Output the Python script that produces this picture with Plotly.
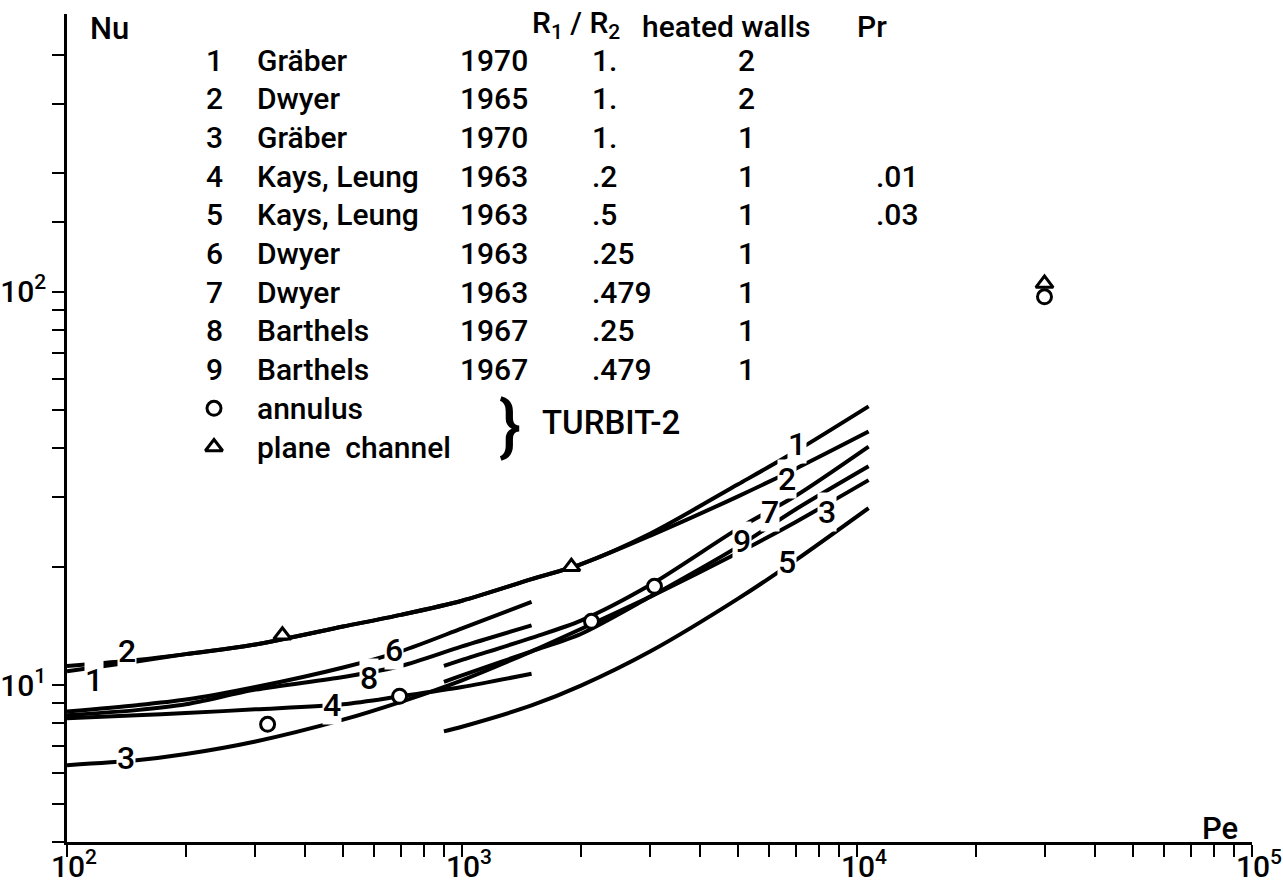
import plotly.graph_objects as go
import math

# ---------------- data ----------------
pe_12 = [100, 150, 200, 300, 500, 700, 1000, 1500, 2000, 3000, 5000, 7000, 10700]
nu_1 = [10.85, 11.5, 12.0, 12.7, 14.1, 15.1, 16.4, 18.6, 20.3, 24.3, 32.4, 39.3, 51.1]
nu_2 = [11.2, 11.6, 12.0, 12.7, 14.1, 15.1, 16.4, 18.6, 20.3, 24.0, 30.2, 35.5, 44.1]
pe_3 = [100, 150, 200, 300, 500, 700, 1000, 1500, 2000, 3000, 5000, 7000, 10700]
nu_3 = [6.27, 6.45, 6.69, 7.2, 8.18, 9.08, 10.3, 12.2, 13.9, 16.8, 21.7, 26.0, 33.2]
pe_low = [100, 150, 200, 300, 500, 700, 1000, 1500]
nu_4 = [8.25, 8.39, 8.5, 8.69, 8.95, 9.38, 9.9, 10.7]
nu_6 = [8.58, 8.9, 9.2, 9.9, 11.1, 12.2, 13.95, 16.3]
nu_8 = [8.39, 8.65, 8.95, 9.75, 10.5, 11.2, 12.56, 14.2]
pe_high = [900, 1000, 1500, 2000, 3000, 5000, 7000, 10700]
nu_7 = [11.2, 11.6, 13.2, 14.6, 18.0, 25.0, 30.3, 40.4]
nu_9 = [10.2, 10.6, 12.2, 13.5, 16.8, 22.5, 28.0, 36.0]
nu_5 = [7.64, 7.85, 8.89, 9.98, 12.2, 16.6, 20.8, 28.2]

annulus_pe = [322, 695, 2127, 3071, 29830]
annulus_nu = [7.96, 9.38, 14.54, 17.84, 97.0]
channel_pe = [351, 1892, 29830]
channel_nu = [13.4, 20.0, 104.8]

legend_rows = [
    ("1", "Gräber", "1970", "1.", "2", ""),
    ("2", "Dwyer", "1965", "1.", "2", ""),
    ("3", "Gräber", "1970", "1.", "1", ""),
    ("4", "Kays, Leung", "1963", ".2", "1", ".01"),
    ("5", "Kays, Leung", "1963", ".5", "1", ".03"),
    ("6", "Dwyer", "1963", ".25", "1", ""),
    ("7", "Dwyer", "1963", ".479", "1", ""),
    ("8", "Barthels", "1967", ".25", "1", ""),
    ("9", "Barthels", "1967", ".479", "1", ""),
]

# curve labels: (text, Pe, Nu)
curve_labels = [
    ("1", 117, 10.3), ("2", 142, 12.2), ("3", 141, 6.53), ("4", 470, 8.9),
    ("6", 671, 12.27), ("8", 583, 10.42),
    ("1", 7063, 41.1), ("2", 6630, 33.5), ("7", 6006, 27.6), ("9", 5101, 23.3),
    ("3", 8414, 27.6), ("5", 6668, 20.6),
]

major_x = [100, 1000, 10000, 100000]
minor_x = [d * 10 ** e for e in (2, 3, 4) for d in range(2, 10)]
major_y = [10, 100]
minor_y = [4, 5, 6, 7, 8, 9, 20, 30, 40, 50, 60, 70, 80, 90, 150, 200, 300, 400]

FONT = "Roboto"
FS = 30
L, R, T, B = 67, 31, 14, 51
W, H = 1283, 893
PW, PH = W - L - R, H - T - B


def px(x, y):
    return (x - L) / PW, (H - B - y) / PH


def tfont(size):
    return dict(family=FONT, size=size, color="black", weight=500)


fig = go.Figure()
line = dict(color="black", width=4, shape="spline", smoothing=0.8)
for xs, ys in [(pe_12, nu_1), (pe_12, nu_2), (pe_3, nu_3), (pe_low, nu_4),
               (pe_low, nu_6), (pe_low, nu_8), (pe_high, nu_7), (pe_high, nu_9),
               (pe_high, nu_5)]:
    fig.add_trace(go.Scatter(x=xs, y=ys, mode="lines", line=line,
                             showlegend=False, hoverinfo="skip"))

circ = dict(symbol="circle", size=14, color="white", line=dict(color="black", width=3))
tri = dict(symbol="triangle-up", size=15, color="white", line=dict(color="black", width=3))
fig.add_trace(go.Scatter(x=annulus_pe, y=annulus_nu, mode="markers", marker=circ,
                         showlegend=False))
fig.add_trace(go.Scatter(x=channel_pe, y=channel_nu, mode="markers", marker=tri,
                         showlegend=False))

# legend key symbols on an overlay axis in paper units
row0, dy = 60, 38.7
kx, ky1 = px(214, row0 + 9 * dy)
_, ky2 = px(214, row0 + 10 * dy)
fig.add_trace(go.Scatter(x=[kx], y=[ky1], mode="markers", marker=circ,
                         xaxis="x2", yaxis="y2", showlegend=False, hoverinfo="skip"))
fig.add_trace(go.Scatter(x=[kx], y=[ky2], mode="markers", marker=tri,
                         xaxis="x2", yaxis="y2", showlegend=False, hoverinfo="skip"))

ann = []
for t, xv, yv in curve_labels:
    ann.append(dict(x=math.log10(xv), y=math.log10(yv), text=t, showarrow=False,
                    font=tfont(32), bgcolor="white", borderpad=0))

# legend table
for i, (n, name, yr, rr, hw, pr) in enumerate(legend_rows):
    yy = row0 + i * dy
    for txt, xx, anc in [(n, 214, "center"), (name, 255, "left"), (yr, 458, "left"),
                         (rr, 590, "left"), (hw, 746, "center"), (pr, 874, "left")]:
        if not txt:
            continue
        xp, yp = px(xx, yy)
        ann.append(dict(xref="paper", yref="paper", x=xp, y=yp, text=txt,
                        xanchor=anc, yanchor="middle", showarrow=False,
                        font=tfont(FS)))

extra = [
    ("R<sub>1</sub> / R<sub>2</sub>", 530, 24, "left", FS),
    ("heated walls", 640, 27, "left", FS),
    ("Pr", 855, 27, "left", FS),
    ("annulus", 255, row0 + 9 * dy, "left", FS),
    ("plane  channel", 255, row0 + 10 * dy, "left", FS),
    ("}", 510, 426, "center", 66),
    ("TURBIT-2", 540, 422, "left", 33),
    ("Nu", 88, 29, "left", 31),
    ("Pe", 1200, 828, "left", 31),
]
for txt, xx, yy, anc, fs in extra:
    xp, yp = px(xx, yy)
    ann.append(dict(xref="paper", yref="paper", x=xp, y=yp, text=txt,
                    xanchor=anc, yanchor="middle", showarrow=False,
                    font=tfont(fs)))

tick_common = dict(ticks="outside", ticklen=12, tickwidth=2.2, tickcolor="black")
fig.update_layout(
    width=W, height=H, margin=dict(l=L, r=R, t=T, b=B, autoexpand=False),
    paper_bgcolor="white", plot_bgcolor="white",
    font=dict(family=FONT, size=FS, color="black"),
    annotations=ann,
    xaxis=dict(type="log", range=[2, 5], tickvals=major_x,
               ticktext=["10<sup>%d</sup>" % round(math.log10(v)) for v in major_x],
               minor=dict(tickvals=minor_x, **tick_common), automargin=False,
               showline=True, linecolor="black", linewidth=2.5, showgrid=False,
               zeroline=False, tickfont=tfont(30),
               ticklabelstandoff=-16, ticklabelshift=7, **tick_common),
    yaxis=dict(type="log", range=[math.log10(4), 2.705], tickvals=major_y,
               ticktext=["10<sup>%d</sup>" % round(math.log10(v)) for v in major_y],
               minor=dict(tickvals=minor_y, **tick_common), automargin=False,
               showline=True, linecolor="black", linewidth=2.5, showgrid=False,
               zeroline=False, tickfont=tfont(30),
               ticklabelstandoff=0, **tick_common),
    xaxis2=dict(overlaying="x", range=[0, 1], visible=False, fixedrange=True),
    yaxis2=dict(overlaying="y", range=[0, 1], visible=False, fixedrange=True),
)
fig.write_html("out.html")
